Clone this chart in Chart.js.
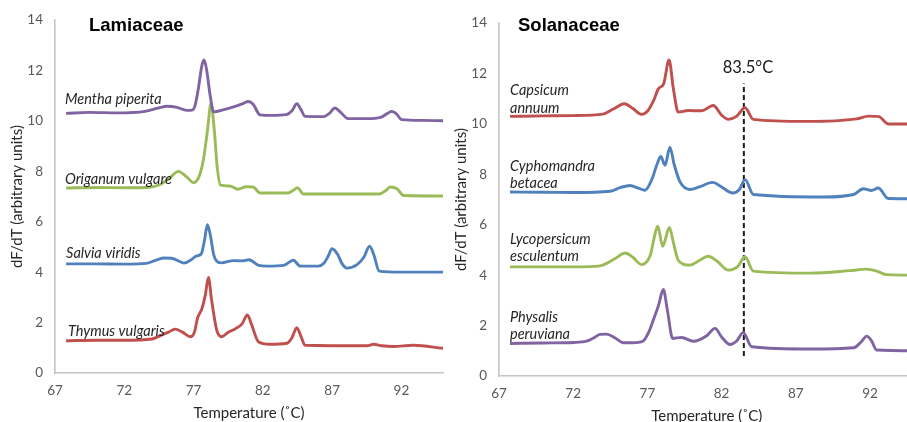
<!DOCTYPE html>
<html>
<head>
<meta charset="utf-8">
<script src="https://cdn.jsdelivr.net/npm/chart.js@4.4.1/dist/chart.umd.min.js"></script>
<style>
  html, body { margin: 0; padding: 0; background: #fff; overflow: hidden; width: 907px; height: 422px; }
  #lamiaceae { position: absolute; left: 0; top: 0; }
  #solanaceae { position: absolute; left: 444px; top: 3px; }
</style>
</head>
<body>
<canvas id="lamiaceae" width="450" height="422"></canvas>
<canvas id="solanaceae" width="472" height="422"></canvas>
<script>
// Melting-curve derivative data (temperature in °C, dF/dT in arbitrary units)
const tempTicks = [67, 72, 77, 82, 87, 92];
const tempRange = [67, 95];
const dfRange = [0, 14];

// Lamiaceae
const menthaT = [67.8, 69.5, 71.5, 73.5, 74.5, 75.1, 75.8, 76.5, 76.9, 77.1, 77.35, 77.6, 77.76, 77.95, 78.2, 78.45, 79.2, 80.0, 80.6, 80.95, 81.3, 81.8, 82.6, 83.7, 84.1, 84.45, 84.75, 85.05, 86.35, 86.8, 87.2, 87.6, 88.15, 89.5, 90.5, 91.0, 91.3, 91.6, 92.03, 93.5, 95.0];
const menthaV = [10.30, 10.34, 10.32, 10.38, 10.52, 10.58, 10.54, 10.42, 10.43, 10.6, 11.3, 12.2, 12.42, 12.0, 11.0, 10.36, 10.45, 10.58, 10.70, 10.77, 10.66, 10.24, 10.22, 10.25, 10.40, 10.68, 10.45, 10.18, 10.17, 10.30, 10.51, 10.35, 10.09, 10.09, 10.14, 10.30, 10.38, 10.30, 10.05, 10.02, 10.01];

const origanumT = [67.8, 70, 72, 73.6, 74.6, 75.3, 75.9, 76.5, 77.0, 77.4, 77.7, 78.0, 78.26, 78.5, 78.7, 78.95, 79.6, 80.2, 80.8, 81.3, 81.8, 83.8, 84.2, 84.5, 84.93, 90.4, 90.9, 91.2, 91.7, 92.15, 95.0];
const origanumV = [7.34, 7.36, 7.35, 7.36, 7.48, 7.75, 8.0, 7.78, 7.55, 7.8, 8.43, 9.6, 10.7, 9.6, 8.2, 7.45, 7.42, 7.29, 7.39, 7.38, 7.14, 7.14, 7.25, 7.35, 7.10, 7.10, 7.25, 7.38, 7.30, 7.04, 7.02];

const salviaT = [67.8, 70, 72, 73.6, 74.3, 74.9, 75.4, 75.9, 76.3, 76.8, 77.2, 77.55, 77.8, 78.0, 78.2, 78.45, 78.65, 79.0, 79.9, 80.5, 81.0, 81.7, 82.3, 83.5, 84.2, 84.7, 86.0, 86.4, 86.7, 87.0, 87.4, 87.7, 88.06, 88.8, 89.3, 89.7, 90.0, 90.4, 92, 95];
const salviaV = [4.33, 4.33, 4.32, 4.35, 4.48, 4.56, 4.55, 4.45, 4.36, 4.48, 4.64, 4.72, 5.3, 5.88, 5.5, 4.7, 4.45, 4.37, 4.46, 4.45, 4.49, 4.27, 4.24, 4.27, 4.47, 4.24, 4.24, 4.35, 4.62, 4.93, 4.7, 4.35, 4.16, 4.3, 4.6, 5.03, 4.7, 4.04, 4.0, 4.0];

const thymusT = [67.8, 70, 72, 74.0, 74.6, 75.2, 75.66, 76.2, 76.75, 77.05, 77.3, 77.6, 77.85, 78.07, 78.3, 78.67, 79.03, 79.5, 80.0, 80.5, 80.88, 81.2, 81.68, 82.5, 83.73, 84.1, 84.45, 84.75, 85.05, 89.5, 90.0, 90.6, 91.4, 92.87, 95.0];
const thymusV = [1.28, 1.30, 1.30, 1.35, 1.48, 1.62, 1.74, 1.62, 1.44, 1.6, 2.2, 2.55, 3.1, 3.79, 2.9, 1.70, 1.44, 1.62, 1.75, 1.95, 2.30, 1.9, 1.24, 1.14, 1.18, 1.40, 1.80, 1.45, 1.10, 1.08, 1.14, 1.08, 1.05, 1.10, 0.98];

// Solanaceae
const capsicumT = [67.74, 70, 72, 74.0, 74.7, 75.45, 76.0, 76.6, 77.0, 77.4, 77.74, 78.1, 78.46, 78.75, 79.08, 79.75, 80.65, 81.44, 82.0, 82.45, 83.0, 83.58, 84.14, 87.7, 91.1, 91.89, 92.6, 93.23, 95];
const capsicumV = [10.30, 10.32, 10.33, 10.39, 10.59, 10.80, 10.62, 10.38, 10.5, 10.9, 11.39, 11.6, 12.54, 11.4, 10.47, 10.53, 10.52, 10.73, 10.35, 10.18, 10.3, 10.64, 10.18, 10.10, 10.2, 10.31, 10.29, 10.0, 10.0];

const cyphomandraT = [67.74, 70, 72, 74.5, 75.2, 75.83, 76.4, 76.84, 77.3, 77.65, 77.9, 78.19, 78.52, 78.8, 79.2, 79.87, 80.5, 81.4, 82.0, 82.75, 83.2, 83.58, 84.14, 88.85, 90.9, 91.55, 92.1, 92.56, 93.23, 95];
const cyphomandraV = [7.30, 7.29, 7.28, 7.33, 7.48, 7.56, 7.45, 7.37, 7.8, 8.4, 8.71, 8.36, 9.08, 8.4, 7.7, 7.40, 7.5, 7.68, 7.5, 7.26, 7.4, 7.79, 7.2, 7.10, 7.2, 7.43, 7.36, 7.46, 7.04, 7.03];

const lycopersicumT = [67.74, 70, 72, 73.8, 74.8, 75.5, 76.0, 76.6, 77.2, 77.5, 77.7, 78.03, 78.48, 78.75, 79.08, 79.87, 80.5, 81.1, 81.7, 82.45, 83.1, 83.58, 84.14, 88, 90.65, 91.78, 92.5, 93.12, 95];
const lycopersicumV = [4.33, 4.33, 4.33, 4.37, 4.65, 4.88, 4.72, 4.42, 4.8, 5.6, 5.94, 5.15, 5.89, 5.3, 4.59, 4.40, 4.58, 4.75, 4.55, 4.20, 4.35, 4.73, 4.16, 4.08, 4.18, 4.24, 4.15, 4.02, 4.0];

const physalisT = [67.74, 70, 72, 72.9, 73.4, 73.8, 74.25, 74.8, 75.38, 76.0, 76.7, 77.1, 77.4, 77.75, 78.07, 78.35, 78.7, 79.3, 80.1, 81.0, 81.56, 82.0, 82.57, 83.0, 83.46, 84.03, 88, 90.9, 91.4, 91.78, 92.1, 92.45, 95];
const physalisV = [1.29, 1.31, 1.33, 1.38, 1.52, 1.65, 1.66, 1.52, 1.32, 1.32, 1.38, 1.75, 2.22, 2.8, 3.43, 2.6, 1.49, 1.53, 1.38, 1.60, 1.89, 1.55, 1.25, 1.38, 1.72, 1.16, 1.07, 1.12, 1.35, 1.58, 1.4, 1.03, 1.0];

// Reference melting temperature marker
const markerTemp = 83.5;
const markerSpan = [0.79, 11.6];

const RED = '#c0504d', GREEN = '#9bbb59', BLUE = '#4f81bd', PURPLE = '#8064a2';

const pts = (xs, ys) => xs.map((x, i) => ({ x, y: ys[i] }));
const curve = (label, xs, ys, color) => ({
  label, data: pts(xs, ys), borderColor: color, borderWidth: 2.9,
  cubicInterpolationMode: 'monotone', pointRadius: 0, fill: false
});

// Italic species names and panel headings drawn at data coordinates
const notesPlugin = {
  id: 'notes',
  afterDatasetsDraw(chart, args, opts) {
    const { ctx, chartArea } = chart;
    const xs = chart.scales.x, ys = chart.scales.y;
    ctx.save();
    ctx.font = 'bold 18.5px "Liberation Sans", Arial, sans-serif';
    ctx.fillStyle = '#000';
    ctx.textBaseline = 'middle';
    ctx.textAlign = 'left';
    ctx.fillText(opts.heading, chartArea.left + opts.headingDx, opts.headingY);
    ctx.font = 'italic 14.5px Lato, sans-serif';
    ctx.fillStyle = '#262626';
    for (const n of opts.names) {
      const x = xs.getPixelForValue(n.t);
      n.lines.forEach((line, i) => {
        ctx.fillText(line, x, ys.getPixelForValue(n.v) + i * 17.5);
      });
    }
    if (opts.marker) {
      ctx.font = '16.5px Lato, sans-serif';
      ctx.fillStyle = '#1a1a1a';
      ctx.textAlign = 'center';
      ctx.fillText(opts.marker.text, xs.getPixelForValue(opts.marker.t), ys.getPixelForValue(opts.marker.v));
    }
    ctx.restore();
  }
};

function options(padRight, notes) {
  const tickFont = { family: 'Lato', size: 13.5 };
  return {
    responsive: false,
    animation: false,
    events: [],
    layout: { padding: { left: 0, right: padRight, top: 20, bottom: 0 } },
    plugins: { legend: { display: false }, tooltip: { enabled: false }, notes },
    scales: {
      x: {
        type: 'linear', min: tempRange[0], max: tempRange[1],
        afterBuildTicks: s => { s.ticks = tempTicks.map(v => ({ value: v })); },
        afterFit: s => { s.height = 49; },
        grid: { display: false, drawTicks: false },
        border: { color: '#c4c4c4', width: 1.6 },
        ticks: { padding: 10, color: '#595959', font: tickFont },
        title: { display: true, text: 'Temperature (˚C)', color: '#262626',
                 font: { family: 'Lato', size: 15 }, padding: { top: 0, bottom: 0 } }
      },
      y: {
        min: dfRange[0], max: dfRange[1],
        afterFit: s => { s.width = 55; },
        grid: { display: false, drawTicks: false },
        border: { color: '#c4c4c4', width: 1.6 },
        ticks: { stepSize: 2, padding: 12, color: '#595959', font: tickFont },
        title: { display: true, text: 'dF/dT (arbitrary units)', color: '#262626',
                 font: { family: 'Lato', size: 15 }, padding: { top: 8, bottom: 0 } }
      }
    }
  };
}

new Chart(document.getElementById('lamiaceae'), {
  type: 'line',
  data: { datasets: [
    curve('Mentha piperita', menthaT, menthaV, PURPLE),
    curve('Origanum vulgare', origanumT, origanumV, GREEN),
    curve('Salvia viridis', salviaT, salviaV, BLUE),
    curve('Thymus vulgaris', thymusT, thymusV, RED)
  ] },
  options: options(7, {
    heading: 'Lamiaceae', headingDx: 34, headingY: 26,
    names: [
      { lines: ['Mentha piperita'], t: 67.72, v: 10.85 },
      { lines: ['Origanum vulgare'], t: 67.72, v: 7.68 },
      { lines: ['Salvia viridis'], t: 67.8, v: 4.75 },
      { lines: ['Thymus vulgaris'], t: 67.94, v: 1.66 }
    ]
  }),
  plugins: [notesPlugin]
});

new Chart(document.getElementById('solanaceae'), {
  type: 'line',
  data: { datasets: [
    curve('Capsicum annuum', capsicumT, capsicumV, RED),
    curve('Cyphomandra betacea', cyphomandraT, cyphomandraV, BLUE),
    curve('Lycopersicum esculentum', lycopersicumT, lycopersicumV, GREEN),
    curve('Physalis peruviana', physalisT, physalisV, PURPLE),
    {
      label: 'Tm', data: markerSpan.map(v => ({ x: markerTemp, y: v })),
      borderColor: '#1a1a1a', borderWidth: 2, borderDash: [5, 3], pointRadius: 0, tension: 0
    }
  ] },
  options: options(1.5, {
    heading: 'Solanaceae', headingDx: 19, headingY: 23,
    names: [
      { lines: ['Capsicum', 'annuum'], t: 67.74, v: 11.33 },
      { lines: ['Cyphomandra', 'betacea'], t: 67.74, v: 8.32 },
      { lines: ['Lycopersicum', 'esculentum'], t: 67.74, v: 5.43 },
      { lines: ['Physalis', 'peruviana'], t: 67.74, v: 2.34 }
    ],
    marker: { text: markerTemp.toFixed(1) + '°C', t: 83.78, v: 12.24 }
  }),
  plugins: [notesPlugin]
});
</script>
</body>
</html>
